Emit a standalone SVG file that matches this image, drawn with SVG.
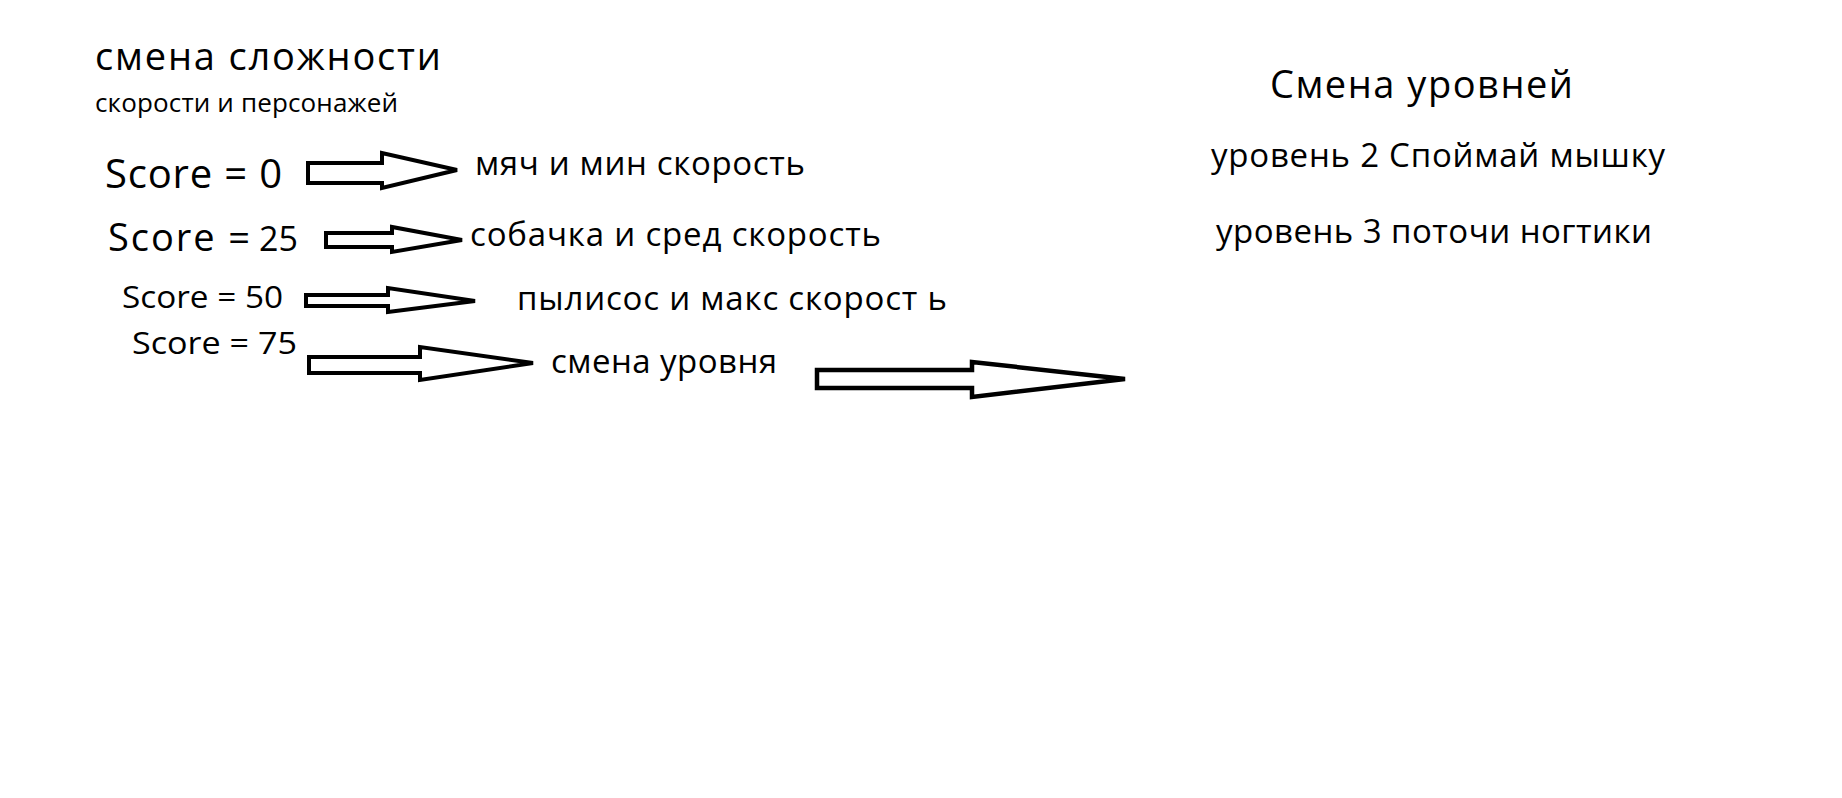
<svg xmlns="http://www.w3.org/2000/svg" width="1842" height="798" viewBox="0 0 1842 798">
<style>
text{font-family:"Open Sans","Noto Sans","DejaVu Sans",sans-serif;fill:#000}
.arrow{fill:#fff;stroke:#000;stroke-width:4;stroke-linejoin:miter}
</style>
<rect width="1842" height="798" fill="#fff"/>
<g id="title-left"><text x="95" y="70" font-size="38" textLength="346">смена сложности</text></g>
<g id="subtitle-left"><text x="95" y="112" font-size="26" textLength="303">скорости и персонажей</text></g>
<g id="score0"><text x="105" y="188" font-size="40" textLength="177">Score = 0</text></g>
<g id="score25"><text x="108" y="251" font-size="38" textLength="142">Score =</text><text x="259" y="251" font-size="34">25</text></g>
<g id="score50"><text x="122" y="308" font-size="31" textLength="161" lengthAdjust="spacingAndGlyphs">Score = 50</text></g>
<g id="score75"><text x="132" y="354" font-size="31" textLength="165" lengthAdjust="spacingAndGlyphs">Score = 75</text></g>
<g id="res0"><text x="475" y="175" font-size="33" textLength="330">мяч и мин скорость</text></g>
<g id="res25"><text x="470" y="246" font-size="33" textLength="411">собачка и сред скорость</text></g>
<g id="res50"><text x="517" y="310" font-size="33" textLength="430">пылисос и макс скорост ь</text></g>
<g id="res75"><text x="551" y="373" font-size="33" textLength="226">смена уровня</text></g>
<g id="title-right"><text x="1270" y="98" font-size="38" textLength="303">Смена уровней</text></g>
<g id="level2"><text x="1211" y="167" font-size="33" textLength="454">уровень 2 Споймай мышку</text></g>
<g id="level3"><text x="1216" y="243" font-size="33" textLength="436">уровень 3 поточи ногтики</text></g>
<g id="connectors">
<polygon class="arrow" points="308,163 382,163 382,153 457,170 382,188 382,183 308,183"/>
<polygon class="arrow" points="326,233 392,233 392,227 462,240 392,252 392,247 326,247"/>
<polygon class="arrow" points="306,295 388,295 388,288 475,301 388,312 388,306 306,306"/>
<polygon class="arrow" points="309,357 420,357 420,347 533,363 420,380 420,373 309,373"/>
<polygon class="arrow" style="stroke-width:4.5" points="817,370 972,370 972,362 1125,379 972,397 972,388 817,388"/>
</g>
</svg>
